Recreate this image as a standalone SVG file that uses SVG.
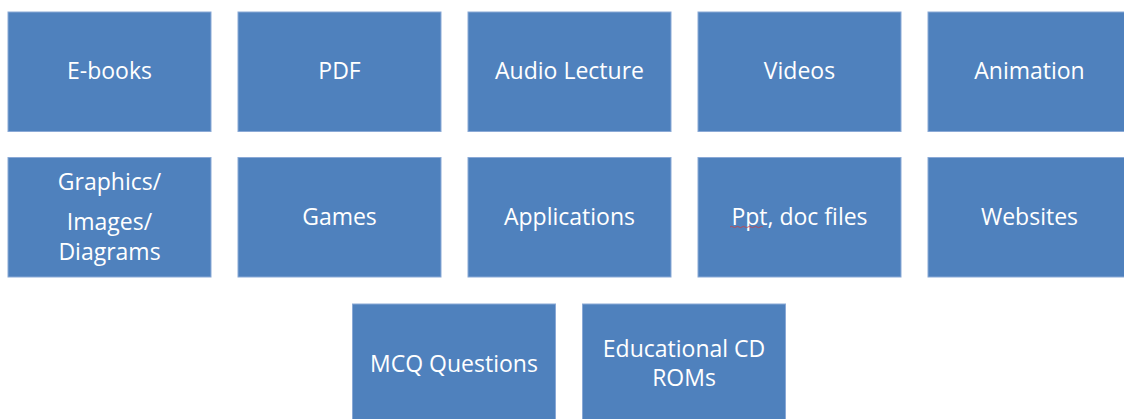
<svg xmlns="http://www.w3.org/2000/svg" width="1124" height="419" viewBox="0 0 1124 419">
<style>
.box{fill:#4F81BD;stroke:#8AA9D6;stroke-width:1}
.t{fill:#FFFFFF;font-family:"Open Sans","Noto Sans","Liberation Sans",sans-serif;font-size:23px;text-anchor:middle}
</style>
<rect x="0" y="0" width="1124" height="419" fill="#FFFFFF"/>
<g id="n-ebooks"><rect class="box" x="8" y="12" width="203" height="119.5"/><text class="t" x="109.5" y="79">E-books</text></g>
<g id="n-pdf"><rect class="box" x="238" y="12" width="203" height="119.5"/><text class="t" x="339.5" y="79">PDF</text></g>
<g id="n-audio"><rect class="box" x="468" y="12" width="203" height="119.5"/><text class="t" x="569.5" y="79">Audio Lecture</text></g>
<g id="n-videos"><rect class="box" x="698" y="12" width="203" height="119.5"/><text class="t" x="799.5" y="79">Videos</text></g>
<g id="n-animation"><rect class="box" x="928" y="12" width="203" height="119.5"/><text class="t" x="1029.5" y="79">Animation</text></g>
<g id="n-graphics"><rect class="box" x="8" y="157.5" width="203" height="119.5"/><text class="t" x="109.5" y="190">Graphics/</text><text class="t" x="109.5" y="230">Images/</text><text class="t" x="109.5" y="260">Diagrams</text></g>
<g id="n-games"><rect class="box" x="238" y="157.5" width="203" height="119.5"/><text class="t" x="339.5" y="225">Games</text></g>
<g id="n-applications"><rect class="box" x="468" y="157.5" width="203" height="119.5"/><text class="t" x="569.5" y="225">Applications</text></g>
<g id="n-ppt"><rect class="box" x="698" y="157.5" width="203" height="119.5"/><text class="t" x="799.5" y="225">Ppt, doc files</text><path d="M730 227 q1.5 -1.2 3 0 t3 0 t3 0 t3 0 t3 0 t3 0 t3 0 t3 0 t3 0 t3 0 t3 0" fill="none" stroke="#D04040" stroke-width="0.8"/></g>
<g id="n-websites"><rect class="box" x="928" y="157.5" width="203" height="119.5"/><text class="t" x="1029.5" y="225">Websites</text></g>
<g id="n-mcq"><rect class="box" x="352.5" y="304" width="203" height="119.5"/><text class="t" x="454" y="372">MCQ Questions</text></g>
<g id="n-cdrom"><rect class="box" x="582.5" y="304" width="203" height="119.5"/><text class="t" x="684" y="357">Educational CD</text><text class="t" x="684" y="386">ROMs</text></g>
<g id="connectors"></g>
</svg>
